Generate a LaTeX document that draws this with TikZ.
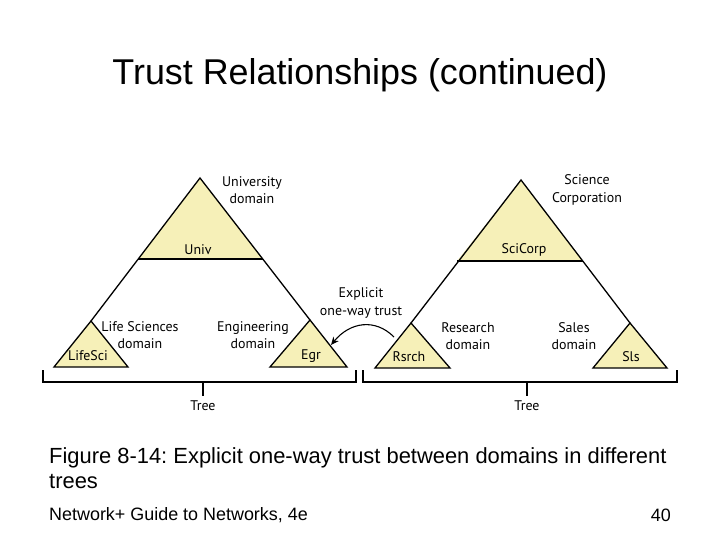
\documentclass[tikz,border=0pt]{standalone}
\usepackage{fontspec}
\setmainfont{Liberation Sans}
\newfontfamily\lbl{PT Sans}
\usetikzlibrary{arrows.meta}
\definecolor{tri}{HTML}{F6F0B8}
\begin{document}
\begin{tikzpicture}[x=1bp,y=-1bp,
  line/.style={line width=1.3bp,black},
  lab/.style={font=\lbl\fontsize{14}{17.5}\selectfont,align=center,inner sep=0pt}]
\useasboundingbox[fill=white] (0,0) rectangle (720,540);
\node[font=\fontsize{36}{40}\selectfont] (title) at (360,75) {Trust Relationships (continued)};
% left tree
\coordinate (la) at (200,178); \coordinate (lb) at (91,321); \coordinate (lc) at (310,320);
\fill[tri] (la) -- (138,259) -- (263,259) -- cycle;
\draw[line] (lb) -- (la) -- (lc);
\draw[line] (138,259) -- (263,259);
\filldraw[line,fill=tri] (lb) -- (54,367) -- (128,367) -- cycle;
\filldraw[line,fill=tri] (lc) -- (270,367) -- (347,367) -- cycle;
\draw[line width=1.2bp] (43,370) -- (43,382) -- (356,382) -- (356,370);
\draw[line width=1.2bp] (203,382) -- (203,396);
% right tree
\coordinate (ra) at (521,180); \coordinate (rb) at (411,323); \coordinate (rc) at (630,323);
\fill[tri] (ra) -- (457,261) -- (583,261) -- cycle;
\draw[line] (rb) -- (ra) -- (rc);
\draw[line] (457,261) -- (583,261);
\filldraw[line,fill=tri] (rb) -- (375,368) -- (450,368) -- cycle;
\filldraw[line,fill=tri] (rc) -- (593,368) -- (667,368) -- cycle;
\draw[line width=1.2bp] (363,370) -- (363,382) -- (677,382) -- (677,370);
\draw[line width=1.2bp] (527,382) -- (527,396);
% labels
\node[lab] (ud) at (252,190) {University\\domain};
\node[lab] (univ) at (198,250) {Univ};
\node[lab] (lsd) at (140,335) {Life Sciences\\domain};
\node[lab] (lifesci) at (88,356) {LifeSci};
\node[lab] (ed) at (253,335) {Engineering\\domain};
\node[lab] (egr) at (311,356) {Egr};
\node[lab] (sc) at (587,190) {Science\\Corporation};
\node[lab] (scicorp) at (524,250) {SciCorp};
\node[lab] (rd) at (468,336) {Research\\domain};
\node[lab] (rsrch) at (409,357) {Rsrch};
\node[lab] (sd) at (574,336) {Sales\\domain};
\node[lab] (sls) at (631,357) {Sls};
\node[lab] (tree1) at (203,406) {Tree};
\node[lab] (tree2) at (527,406) {Tree};
\node[lab] (exp) at (361,303) {Explicit\\one-way trust};
\coordinate (as) at (394,337); \coordinate (ae) at (331,345);
\draw[line width=1.1bp,-{Stealth[length=8bp,width=7bp]}] (as) .. controls (375,318) and (350,322) .. (ae);
% caption
\node[anchor=west,align=left,font=\fontsize{22}{25}\selectfont,inner sep=0pt] (cap) at (49,468) {\frenchspacing Figure 8-14: Explicit one-way trust between domains in different\\trees};
\node[anchor=west,font=\fontsize{18}{20}\selectfont,inner sep=0pt] (foot) at (49,515) {Network+ Guide to Networks, 4e};
\node[anchor=east,font=\fontsize{18}{20}\selectfont,inner sep=0pt] (num) at (671,515) {40};
\end{tikzpicture}
\end{document}
